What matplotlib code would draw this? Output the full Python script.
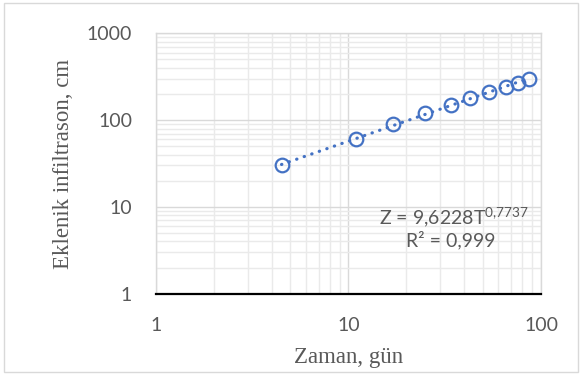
import numpy as np
import matplotlib
matplotlib.use("Agg")
import matplotlib.pyplot as plt
from matplotlib.ticker import LogLocator, NullFormatter
from matplotlib.patches import Rectangle

# data
gun = [4.5, 11, 17, 25, 34, 43, 54, 66, 76, 87]
infiltrasyon = [30, 60, 90, 120, 150, 180, 210, 240, 270, 300]
x_ticks = [1, 10, 100]
y_ticks = [1, 10, 100, 1000]
denklem = "Z = 9,6228T$^{0{,}7737}$"
r2_yazi = "R² = 0,999"

blue = '#4472C4'
grey_txt = '#595959'
major_grid = '#D9D9D9'
minor_grid = '#EAEAEA'

plt.rcParams['mathtext.default'] = 'regular'

fig = plt.figure(figsize=(5.82, 3.75), dpi=100)
ax = fig.add_axes([0.2675, 0.2168, 0.9296 - 0.2675, 0.9112 - 0.2168])

ax.set_xscale('log')
ax.set_yscale('log')
ax.set_xlim(1, 100)
ax.set_ylim(1, 1000)

# power trendline (fit in log space like Excel)
b, a = np.polyfit(np.log10(gun), np.log10(infiltrasyon), 1)
tx = np.logspace(np.log10(min(gun)), np.log10(max(gun)), 200)
ty = 10 ** a * tx ** b
ax.plot(tx, ty, color=blue, linewidth=2.3, linestyle=(0, (0.1, 2.4)),
        dash_capstyle='round', zorder=3)

ax.plot(gun, infiltrasyon, linestyle='none', marker='o', markersize=9.8,
        markerfacecolor='none', markeredgecolor=blue, markeredgewidth=1.6, zorder=4)

# grid
ax.xaxis.set_minor_locator(LogLocator(base=10, subs=np.arange(2, 10)))
ax.yaxis.set_minor_locator(LogLocator(base=10, subs=np.arange(2, 10)))
ax.xaxis.set_minor_formatter(NullFormatter())
ax.yaxis.set_minor_formatter(NullFormatter())
ax.grid(which='major', color=major_grid, linewidth=1.0, zorder=0)
ax.grid(which='minor', color=minor_grid, linewidth=1.0, zorder=0)
ax.set_axisbelow(True)

ax.set_xticks(x_ticks)
ax.set_xticklabels([str(v) for v in x_ticks])
ax.set_yticks(y_ticks)
ax.set_yticklabels([str(v) for v in y_ticks])
ax.tick_params(which='both', length=0)
ax.tick_params(axis='x', pad=17, labelsize=14, labelcolor=grey_txt)
ax.tick_params(axis='y', pad=17, labelsize=14, labelcolor=grey_txt)
for lab in ax.get_xticklabels() + ax.get_yticklabels():
    lab.set_fontfamily('Lato')

for s in ['top', 'right', 'left']:
    ax.spines[s].set_color(major_grid)
    ax.spines[s].set_linewidth(1.0)
ax.spines['bottom'].set_color('black')
ax.spines['bottom'].set_linewidth(1.6)

ax.set_xlabel('Zaman, gün', family='Liberation Serif', fontsize=16.5,
              color=grey_txt, labelpad=9)
ax.set_ylabel('Eklenik infiltrason, cm', family='Liberation Serif', fontsize=16.5,
              color=grey_txt, labelpad=9)

ax.text(0.775, 0.295, denklem, transform=ax.transAxes, ha='center', va='center',
        fontsize=14, color=grey_txt, family='Lato')
ax.text(0.765, 0.205, r2_yazi, transform=ax.transAxes, ha='center', va='center',
        fontsize=14, color=grey_txt, family='Lato')

# chart border
fig.patches.append(Rectangle((4 / 582, 3 / 375), 574 / 582, 369 / 375,
                             transform=fig.transFigure, fill=False,
                             edgecolor='#D9D9D9', linewidth=1.0))

fig.savefig('out.png', dpi=100)
